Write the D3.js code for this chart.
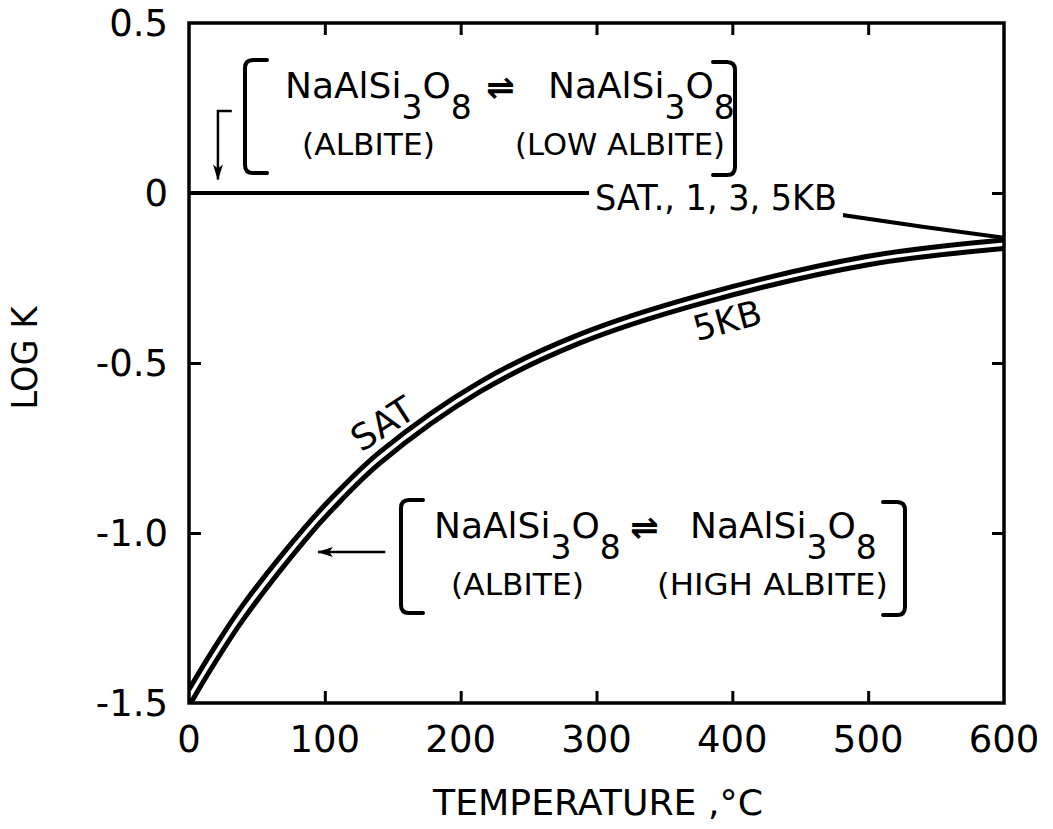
<!DOCTYPE html>
<html>
<head>
<meta charset="utf-8">
<script src="https://cdn.jsdelivr.net/npm/d3@7"></script>
<style>
  html, body { margin: 0; padding: 0; background: #fff; }
  svg { display: block; }
  text { font-family: "DejaVu Sans", sans-serif; fill: #000; }
</style>
</head>
<body>
<svg id="chart" width="1053" height="829"></svg>
<script>
// Temperature (°C) and log K for albite -> high albite, at saturation and 5 kb
const curveTemps = [0, 17, 40, 85, 106, 141, 214, 288, 376, 500, 600];
const satValues  = [-1.46, -1.348, -1.21, -0.985, -0.893, -0.76, -0.556, -0.415, -0.301, -0.186, -0.138];
const kb5Values  = [-1.509, -1.395, -1.254, -1.023, -0.929, -0.793, -0.585, -0.441, -0.326, -0.211, -0.163];

// albite -> low albite, same at SAT., 1, 3 and 5 kb
const lowTemps  = [0, 300, 455, 481, 540, 600];
const lowValues = [0, 0, 0, -0.065, -0.099, -0.132];

const xTicks = [0, 100, 200, 300, 400, 500, 600];
const yTicks = [0.5, 0, -0.5, -1.0, -1.5];
const yTickLabels = ["0.5", "0", "-0.5", "-1.0", "-1.5"];

const svg = d3.select("#chart");
const x = d3.scaleLinear().domain([0, 600]).range([189, 1004]);
const y = d3.scaleLinear().domain([-1.5, 0.5]).range([703, 23]);

const INK = "#000";

// clip for the curves
svg.append("clipPath").attr("id", "plotClip")
  .append("rect")
  .attr("x", x(0)).attr("y", y(0.5))
  .attr("width", x(600) - x(0)).attr("height", y(-1.5) - y(0.5));

// inward ticks on all four sides
const tickLen = 12;
svg.append("g").attr("transform", `translate(0,${y(-1.5)})`)
  .call(d3.axisBottom(x).tickValues(xTicks.slice(1, -1)).tickSizeInner(-tickLen).tickSizeOuter(0).tickFormat(""))
  .call(g => g.select(".domain").remove());
svg.append("g").attr("transform", `translate(0,${y(0.5)})`)
  .call(d3.axisTop(x).tickValues(xTicks.slice(1, -1)).tickSizeInner(-tickLen).tickSizeOuter(0).tickFormat(""))
  .call(g => g.select(".domain").remove());
svg.append("g").attr("transform", `translate(${x(0)},0)`)
  .call(d3.axisLeft(y).tickValues([-0.5, -1.0]).tickSizeInner(-tickLen).tickSizeOuter(0).tickFormat(""))
  .call(g => g.select(".domain").remove());
svg.append("g").attr("transform", `translate(${x(600)},0)`)
  .call(d3.axisRight(y).tickValues([0, -0.5, -1.0]).tickSizeInner(-tickLen).tickSizeOuter(0).tickFormat(""))
  .call(g => g.select(".domain").remove());
svg.selectAll(".tick line").attr("stroke", INK).attr("stroke-width", 3);

// frame
svg.append("rect")
  .attr("x", x(0)).attr("y", y(0.5))
  .attr("width", x(600) - x(0)).attr("height", y(-1.5) - y(0.5))
  .attr("fill", "none").attr("stroke", INK).attr("stroke-width", 3.5);

// tick labels
svg.append("g").selectAll("text").data(xTicks).join("text")
  .attr("x", d => x(d)).attr("y", 752)
  .attr("text-anchor", "middle").attr("font-size", 37)
  .text(d => d);
svg.append("g").selectAll("text").data(yTicks).join("text")
  .attr("x", 168).attr("y", d => y(d) + 13)
  .attr("text-anchor", "end").attr("font-size", 37)
  .text((d, i) => yTickLabels[i]);

// axis titles
svg.append("text")
  .attr("x", 598).attr("y", 815).attr("text-anchor", "middle")
  .attr("font-size", 35).attr("textLength", 330).attr("lengthAdjust", "spacingAndGlyphs")
  .text("TEMPERATURE ,°C");
svg.append("text")
  .attr("transform", `translate(37,${y(-0.5) - 5}) rotate(-90)`)
  .attr("text-anchor", "middle").attr("font-size", 36)
  .attr("textLength", 103).attr("lengthAdjust", "spacingAndGlyphs")
  .text("LOG K");

// curves
const plot = svg.append("g").attr("clip-path", "url(#plotClip)");

plot.append("path")
  .datum(lowTemps.map((t, i) => [t, lowValues[i]]))
  .attr("d", d3.line().x(d => x(d[0])).y(d => y(d[1])))
  .attr("fill", "none").attr("stroke", INK).attr("stroke-width", 4);

const smooth = d3.line().x(d => x(d[0])).y(d => y(d[1])).curve(d3.curveCatmullRom.alpha(0.5));
[satValues, kb5Values].forEach(vals => {
  plot.append("path")
    .datum(curveTemps.map((t, i) => [t, vals[i]]))
    .attr("d", smooth)
    .attr("fill", "none").attr("stroke", INK).attr("stroke-width", 5);
});

// label on the zero line, with a white backing so the line stops at the text
const lowLabelX = 595, lowLabelY = 210;
svg.append("rect")
  .attr("x", lowLabelX - 6).attr("y", lowLabelY - 32)
  .attr("width", 254).attr("height", 40).attr("fill", "#fff");
svg.append("text")
  .attr("x", lowLabelX).attr("y", lowLabelY)
  .attr("font-size", 35).attr("textLength", 242).attr("lengthAdjust", "spacingAndGlyphs")
  .text("SAT., 1, 3, 5KB");

// curve labels
svg.append("text")
  .attr("transform", `translate(${x(150)},${y(-0.725)}) rotate(-33)`)
  .attr("y", -6).attr("text-anchor", "middle").attr("font-size", 36)
  .text("SAT");
svg.append("text")
  .attr("transform", `translate(${x(392)},${y(-0.31)}) rotate(-15)`)
  .attr("y", 35).attr("text-anchor", "middle").attr("font-size", 35)
  .text("5KB");

// reaction boxes
function bracket(g, xv, y0, y1, arm) {
  const r = 8;
  const p = d3.path();
  p.moveTo(xv + arm, y0);
  p.lineTo(xv + Math.sign(arm) * r, y0);
  p.quadraticCurveTo(xv, y0, xv, y0 + r);
  p.lineTo(xv, y1 - r);
  p.quadraticCurveTo(xv, y1, xv + Math.sign(arm) * r, y1);
  p.lineTo(xv + arm, y1);
  g.append("path").attr("d", p.toString())
    .attr("fill", "none").attr("stroke", INK).attr("stroke-width", 4)
    .attr("stroke-linecap", "round");
}

function formula(g, x0, base) {
  const t = g.append("text").attr("x", x0).attr("y", base).attr("font-size", 36);
  t.append("tspan").text("NaAlSi");
  t.append("tspan").attr("dy", 21).attr("font-size", 33).text("3");
  t.append("tspan").attr("dy", -21).text("O");
  t.append("tspan").attr("dy", 21).attr("font-size", 33).text("8");
}

function reactionBox(opts) {
  const g = svg.append("g");
  bracket(g, opts.left, opts.top, opts.top + 113, 22);
  bracket(g, opts.right, opts.top + 2, opts.top + 115, -22);
  formula(g, opts.f1, opts.top + 38);
  g.append("text").attr("x", opts.arrowX).attr("y", opts.top + 39)
    .attr("font-size", 34).attr("font-weight", "bold").text("\u21CC");
  formula(g, opts.f2, opts.top + 38);
  g.append("text").attr("x", opts.f1 + 17).attr("y", opts.top + 95)
    .attr("font-size", 30).attr("textLength", 133).attr("lengthAdjust", "spacingAndGlyphs")
    .text("(ALBITE)");
  g.append("text").attr("x", opts.l2).attr("y", opts.top + 95)
    .attr("font-size", 30).attr("textLength", opts.l2w).attr("lengthAdjust", "spacingAndGlyphs")
    .text(opts.label2);
}

reactionBox({ left: 245, right: 735, top: 60, f1: 285, arrowX: 486, f2: 548,
  l2: 515, l2w: 210, label2: "(LOW ALBITE)" });
reactionBox({ left: 401, right: 905, top: 500, f1: 434, arrowX: 630, f2: 690,
  l2: 657, l2w: 231, label2: "(HIGH ALBITE)" });

// pointer arrows
svg.append("defs").append("marker")
  .attr("id", "head").attr("viewBox", "0 0 16 10")
  .attr("refX", 15).attr("refY", 5)
  .attr("markerWidth", 16).attr("markerHeight", 10)
  .attr("markerUnits", "userSpaceOnUse").attr("orient", "auto")
  .append("path").attr("d", "M0,0 L16,5 L0,10 L4,5 Z").attr("fill", INK);

svg.append("path")
  .attr("d", d3.line()([[x(31.5), y(0.241)], [x(21.3), y(0.241)], [x(21.3), y(0.04)]]))
  .attr("fill", "none").attr("stroke", INK).attr("stroke-width", 2.5)
  .attr("marker-end", "url(#head)");
svg.append("path")
  .attr("d", d3.line()([[x(144.5), y(-1.056)], [x(95), y(-1.056)]]))
  .attr("fill", "none").attr("stroke", INK).attr("stroke-width", 2.5)
  .attr("marker-end", "url(#head)");
</script>
</body>
</html>
